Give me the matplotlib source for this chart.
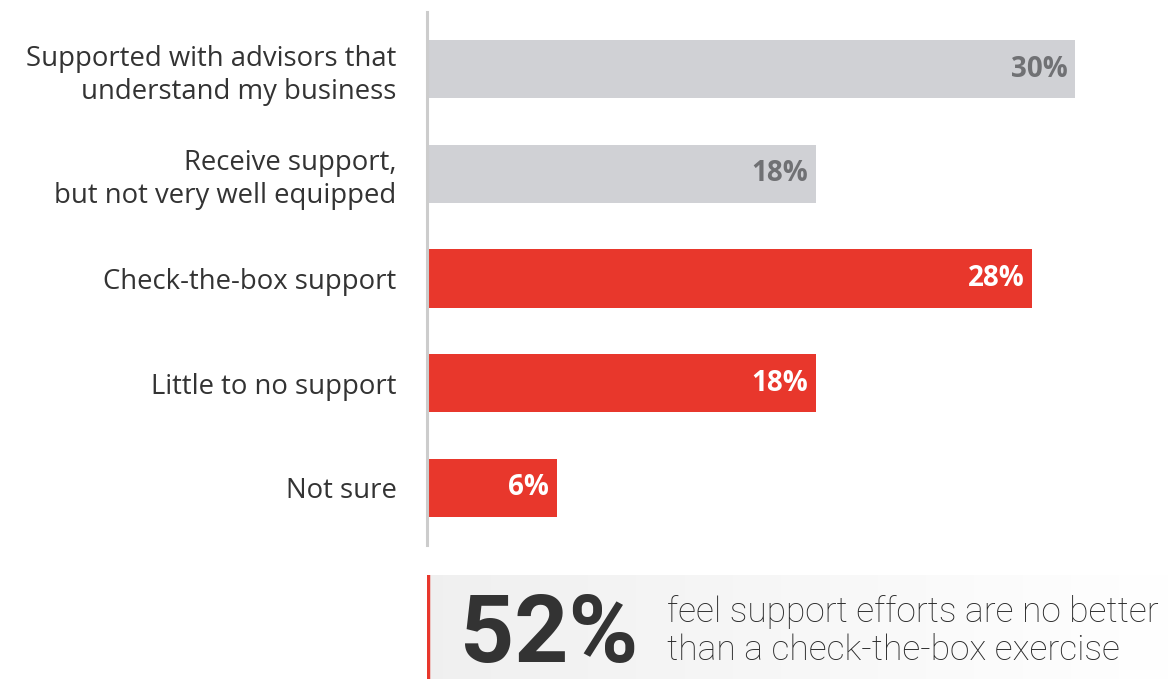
import numpy as np
import matplotlib.pyplot as plt

categories = [
    "Supported with advisors that\nunderstand my business",
    "Receive support,\nbut not very well equipped",
    "Check-the-box support",
    "Little to no support",
    "Not sure",
]
values = [30, 18, 28, 18, 6]
highlight = [False, False, True, True, True]

callout_value = "52%"
callout_text = "feel support efforts are no better\nthan a check-the-box exercise"

GRAY = "#d0d1d5"
RED = "#e8372c"
DARK = "#333333"

plt.rcParams['font.family'] = ['Open Sans', 'DejaVu Sans']

W, H = 1169, 679
fig = plt.figure(figsize=(W / 100, H / 100), dpi=100)
fig.patch.set_facecolor("white")

# main bar chart
x0 = 427
ax = fig.add_axes([x0 / W, (H - 545) / H, (W - x0) / W, (545 - 12) / H])
pos = np.arange(len(categories))
colors = [RED if h else GRAY for h in highlight]
bars = ax.barh(pos, values, height=0.555, color=colors)
ax.set_xlim(0, (W - x0) / 21.6)
ax.set_ylim(4.55, -0.55)

for b, v, h in zip(bars, values, highlight):
    ax.text(b.get_width() - 0.35, b.get_y() + b.get_height() / 2, f"{v}%",
            ha="right", va="center", fontsize=20, fontweight="bold",
            color="white" if h else "#707174")

ax.set_yticks(pos)
ax.set_yticklabels(categories, fontsize=19.8, color=DARK, linespacing=1.22)
ax.tick_params(axis="y", length=0, pad=22)
ax.set_xticks([])
for s in ["top", "right", "bottom"]:
    ax.spines[s].set_visible(False)
ax.spines["left"].set_color("#cccccc")
ax.spines["left"].set_linewidth(2.2)
ax.set_facecolor("none")

# callout box with soft gray-to-white gradient
bx = fig.add_axes([x0 / W, 0, (W - x0) / W, (679 - 575) / H])
grad = np.linspace(0.94, 1.0, 256).reshape(1, -1)
bx.imshow(np.dstack([grad, grad, grad]), aspect="auto", extent=[0, 1, 0, 1])
bx.set_xlim(0, 1)
bx.set_ylim(0, 1)
bx.axvline(0.002, color=RED, lw=2.5)
bx.axis("off")

fig.text(460 / W, (H - 636) / H, callout_value, fontsize=68, fontweight="bold",
         family=["Roboto", "DejaVu Sans"], color=DARK, ha="left", va="center")
fig.text(667 / W, (H - 631) / H, callout_text, fontsize=25.5, fontweight="light",
         family=["Roboto", "DejaVu Sans"], color="#2a2a2a", ha="left", va="center",
         linespacing=1.15)

fig.savefig("out.png", dpi=100)
